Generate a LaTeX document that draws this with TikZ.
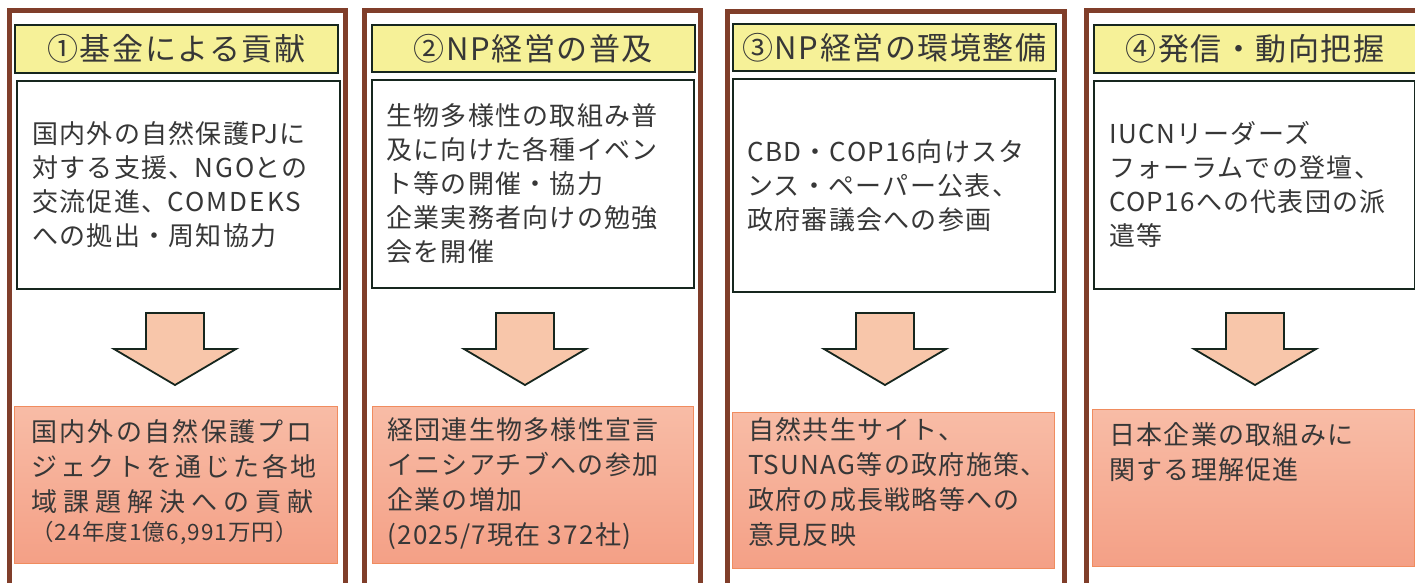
\documentclass[tikz,border=0pt]{standalone}
\usepackage{fontspec}
\newfontfamily\jp{Noto Sans CJK JP}[LetterSpace=5]
\usetikzlibrary{calc}
\definecolor{brownframe}{RGB}{128,62,42}
\definecolor{hdrfill}{RGB}{246,241,152}
\definecolor{boxline}{RGB}{22,38,30}
\definecolor{txt}{RGB}{55,55,55}
\definecolor{arrfill}{RGB}{248,198,170}
\definecolor{bottop}{RGB}{248,188,166}
\definecolor{botbot}{RGB}{244,160,134}
\definecolor{botline}{RGB}{240,140,95}
\tikzset{
  frameline/.style={draw=brownframe, line width=5pt},
  hdr/.style={draw=boxline, line width=1.8pt, fill=hdrfill, text=txt,
    font=\jp\fontsize{31}{36}\selectfont, inner sep=0pt, anchor=north west},
  wbox/.style={draw=boxline, line width=1.8pt, fill=white, anchor=north west, inner sep=0pt},
  wtxt/.style={text=txt, font=\jp\fontsize{26}{34}\selectfont, align=left, anchor=west, inner sep=0pt},
  botbox/.style={draw=botline, line width=1.2pt, top color=bottop, bottom color=botbot,
    anchor=north west, inner sep=0pt},
  btxt/.style={text=txt, font=\jp\fontsize{26}{35}\selectfont, align=left, anchor=north west, inner sep=0pt},
  barrow/.style={draw=boxline, line width=1.8pt, fill=arrfill, line join=miter}
}
\begin{document}
\begin{tikzpicture}[x=1pt,y=-1pt]
\useasboundingbox (0,0) rectangle (1415,582);
\clip (0,0) rectangle (1415,582);
\fill[white] (0,0) rectangle (1415,582);

% frames
\draw[frameline] (9.5,600) -- (9.5,10.5) -- (345.5,10.5) -- (345.5,600);
\draw[frameline] (364.5,600) -- (364.5,10.5) -- (700.5,10.5) -- (700.5,600);
\draw[frameline] (727.5,600) -- (727.5,11) -- (1064.5,11) -- (1064.5,600);
\draw[frameline] (1086.5,600) -- (1086.5,10.5) -- (1430,10.5);

% headers
\node[hdr, minimum width=323pt, minimum height=48pt] (h1) at (14,24) {①基金による貢献};
\node[hdr, minimum width=323pt, minimum height=47pt] (h2) at (371,24) {②NP経営の普及};
\node[hdr, minimum width=323pt, minimum height=47pt] (h3) at (732,23) {③NP経営の環境整備};
\node[hdr, minimum width=322pt, minimum height=48pt] (h4) at (1093,24) {④発信・動向把握};

% white boxes
\node[wbox, minimum width=323pt, minimum height=208pt] (w1) at (16,80) {};
\node[wbox, minimum width=322pt, minimum height=208pt] (w2) at (371,79) {};
\node[wbox, minimum width=322pt, minimum height=213pt] (w3) at (732,78) {};
\node[wbox, minimum width=321pt, minimum height=208pt] (w4) at (1093,80) {};

\node[wtxt] (w1t) at ($(w1.west)+(16,0)$) {国内外の自然保護PJに\\対する支援、{\addfontfeature{LetterSpace=8}NGO}との\\交流促進、{\addfontfeature{LetterSpace=8}COMDEKS}\\への拠出・周知協力};
\node[wtxt] (w2t) at ($(w2.west)+(15,0)$) {生物多様性の取組み普\\及に向けた各種イベン\\ト等の開催・協力\\企業実務者向けの勉強\\会を開催};
\node[wtxt] (w3t) at ($(w3.west)+(15,0)$) {CBD・COP16向けスタ\\ンス・ペーパー公表、\\政府審議会への参画};
\node[wtxt] (w4t) at ($(w4.west)+(16,0)$) {IUCNリーダーズ\\フォーラムでの登壇、\\COP16への代表団の派\\遣等};

% bottom boxes
\node[botbox, minimum width=323pt, minimum height=157pt] (b1) at (14,406) {};
\node[botbox, minimum width=321pt, minimum height=157pt] (b2) at (372,406) {};
\node[botbox, minimum width=322pt, minimum height=156pt] (b3) at (732,412) {};
\node[botbox, minimum width=322pt, minimum height=157pt] (b4) at (1092,409) {};

\node[btxt] (b1t) at ($(b1.north west)+(17,13)$) {{\addfontfeature{LetterSpace=9}国内外の自然保護プロ}\\{\addfontfeature{LetterSpace=11}ジェクトを通じた各地}\\{\addfontfeature{LetterSpace=23}域課題解決への貢献}\\[-6pt]{\fontsize{22.5}{26}\selectfont（24年度1億6,991万円）}};
\node[btxt] (b2t) at ($(b2.north west)+(15,11)$) {経団連生物多様性宣言\\イニシアチブへの参加\\企業の増加\\(2025/7現在 372社)};
\node[btxt] (b3t) at ($(b3.north west)+(16,5)$) {自然共生サイト、\\TSUNAG等の政府施策、\\政府の成長戦略等への\\意見反映};
\node[btxt] (b4t) at ($(b4.north west)+(17,13)$) {日本企業の取組みに\\関する理解促進};

% block arrows
\foreach \cx/\nm in {175/a1,525/a2,885/a3,1255/a4}{
  \draw[barrow] ({\cx-29},313) -- ({\cx+29},313) -- ({\cx+29},349) -- ({\cx+61},349)
    -- (\cx,385) -- ({\cx-61},349) -- ({\cx-29},349) -- cycle;
}
\end{tikzpicture}
\end{document}
